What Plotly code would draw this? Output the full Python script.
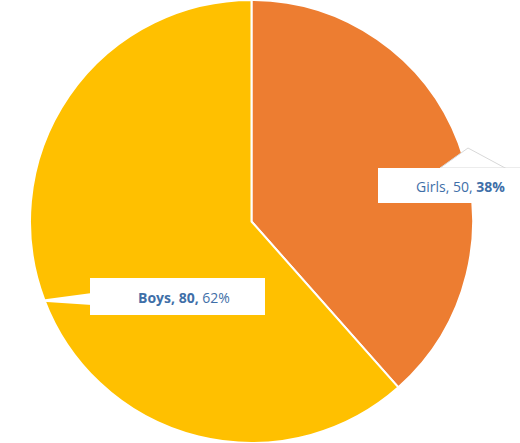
import plotly.graph_objects as go

labels = ["Girls", "Boys"]
values = [50, 80]
colors = ["#ED7D31", "#FFC000"]
label_texts = ["Girls, 50, <b>38%</b>", "<b>Boys, 80,</b> 62%"]

W, H = 520, 443

def px(x):
    return x / W

def py(y):
    return 1 - y / H

fig = go.Figure(go.Pie(
    labels=labels, values=values, sort=False, direction="clockwise", rotation=0,
    marker=dict(colors=colors, line=dict(color="white", width=2)),
    textinfo="none", hoverinfo="label+value+percent",
    domain=dict(x=[px(30), px(473)], y=[0, 1]),
))

shapes = [
    # Girls callout leader
    dict(type="path", xref="paper", yref="paper",
         path=f"M {px(440)},{py(168)} L {px(468)},{py(148)} L {px(520)},{py(176)} L {px(520)},{py(168)} Z",
         fillcolor="white", line=dict(color="#d8d8d8", width=1)),
    dict(type="rect", xref="paper", yref="paper",
         x0=px(378), x1=px(521), y0=py(168), y1=py(203),
         fillcolor="white", line=dict(width=0)),
    # Boys callout pointer
    dict(type="path", xref="paper", yref="paper",
         path=f"M {px(92)},{py(293)} L {px(32)},{py(301)} L {px(92)},{py(305)} Z",
         fillcolor="white", line=dict(width=0)),
    dict(type="rect", xref="paper", yref="paper",
         x0=px(90), x1=px(265), y0=py(278), y1=py(315),
         fillcolor="white", line=dict(width=0)),
]

annotations = [
    dict(text=label_texts[0], x=px(460), y=py(187), xref="paper", yref="paper",
         xanchor="center", yanchor="middle",
         showarrow=False, font=dict(family="Open Sans", size=14, color="#3f6fa8")),
    dict(text=label_texts[1], x=px(184), y=py(297), xref="paper", yref="paper",
         xanchor="center", yanchor="middle",
         showarrow=False, font=dict(family="Open Sans", size=14, color="#3f6fa8")),
]

fig.update_layout(
    width=W, height=H, margin=dict(l=0, r=0, t=0, b=0),
    paper_bgcolor="white", plot_bgcolor="white", showlegend=False,
    shapes=shapes, annotations=annotations,
)

fig.write_html("out.html")
